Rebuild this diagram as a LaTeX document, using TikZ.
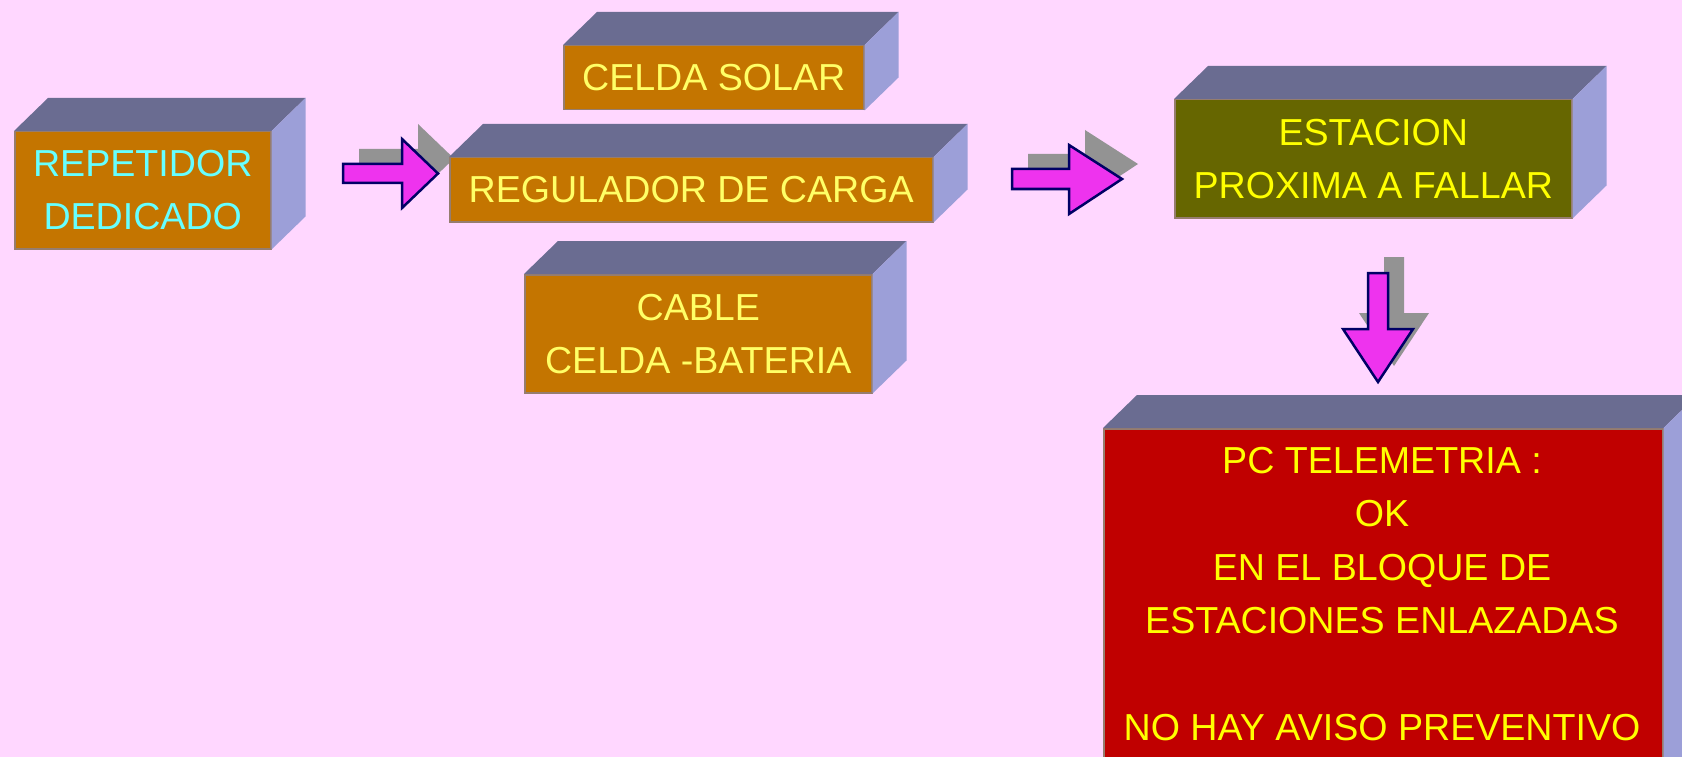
\documentclass[tikz,border=0pt]{standalone}
\usepackage{fontspec}
\setmainfont{Liberation Sans}
\definecolor{bgpink}{RGB}{255,215,255}
\definecolor{topface}{RGB}{106,108,145}
\definecolor{sideface}{RGB}{156,159,216}
\definecolor{orangeface}{RGB}{196,117,0}
\definecolor{oliveface}{RGB}{102,102,0}
\definecolor{redface}{RGB}{192,0,0}
\definecolor{paleyellow}{RGB}{255,255,102}
\definecolor{brightyellow}{RGB}{255,255,0}
\definecolor{cyantext}{RGB}{102,255,255}
\definecolor{arrowfill}{RGB}{238,51,238}
\definecolor{arrowline}{RGB}{0,0,102}
\definecolor{shadowgray}{RGB}{147,147,147}
\definecolor{faceedge}{RGB}{150,125,110}
\tikzset{
  frontface/.style={draw=faceedge, line width=1.5pt, inner sep=0pt, anchor=north west,
    align=center, font=\fontsize{37.6}{53}\selectfont},
  topfill/.style={fill=topface},
  sidefill/.style={fill=sideface},
  blockarrow/.style={fill=arrowfill, draw=arrowline, line width=2.5pt, line join=miter},
  arrowshadow/.style={fill=shadowgray},
}
% cube: name, x, y, width, height, fill, text colour, text
\newcommand\mkcube[8]{%
  \node[frontface, fill=#6, text=#7, minimum width=#4pt, minimum height=#5pt] (#1) at (#2,#3) {#8};
  \fill[topfill] (#1.north west) -- ([shift={(34,-33)}]#1.north west) -- ([shift={(34,-33)}]#1.north east) -- (#1.north east) -- cycle;
  \fill[sidefill] (#1.north east) -- ([shift={(34,-33)}]#1.north east) -- ([shift={(34,-33)}]#1.south east) -- (#1.south east) -- cycle;
}
\begin{document}
\begin{tikzpicture}[x=1pt,y=-1pt]
\useasboundingbox (0,0) rectangle (1682,757);
\clip (0,0) rectangle (1682,757);
\fill[bgpink] (0,0) rectangle (1682,757);

% arrow shadows
\fill[arrowshadow] (359,149) -- (418,149) -- (418,124) -- (454,158.5) -- (418,193) -- (418,168) -- (359,168) -- cycle;
\fill[arrowshadow] (1028,154) -- (1085,154) -- (1085,130) -- (1138,164) -- (1085,199) -- (1085,174) -- (1028,174) -- cycle;
\fill[arrowshadow] (1384,257) -- (1404,257) -- (1404,313) -- (1429,313) -- (1394,366) -- (1359,313) -- (1384,313) -- cycle;

% boxes
\mkcube{rep}{14}{131}{256}{117}{orangeface}{cyantext}{REPETIDOR\\DEDICADO}
\mkcube{solar}{563}{45}{300}{64}{orangeface}{paleyellow}{CELDA SOLAR}
\mkcube{regul}{449}{157}{483}{64}{orangeface}{paleyellow}{REGULADOR DE CARGA}
\mkcube{cable}{524}{274}{347}{118}{orangeface}{paleyellow}{CABLE\\CELDA -BATERIA}
\mkcube{estac}{1174}{99}{397}{118}{oliveface}{brightyellow}{ESTACION\\PROXIMA A FALLAR}
\mkcube{pc}{1103}{428}{559}{400}{redface}{brightyellow}{}
\node[anchor=north, inner sep=0pt, align=center, text=brightyellow,
      font=\fontsize{37.6}{53.5}\selectfont] (pctext) at (1382,447)
  {PC TELEMETRIA :\\OK\\EN EL BLOQUE DE\\ESTACIONES ENLAZADAS\\~\\NO HAY AVISO PREVENTIVO};

% block arrows
\draw[blockarrow] (343,164) -- (402,164) -- (402,139) -- (438,173.5) -- (402,208) -- (402,183) -- (343,183) -- cycle;
\draw[blockarrow] (1012,169) -- (1069,169) -- (1069,145) -- (1122,179) -- (1069,214) -- (1069,189) -- (1012,189) -- cycle;
\draw[blockarrow] (1368,273) -- (1388,273) -- (1388,329) -- (1413,329) -- (1378,382) -- (1343,329) -- (1368,329) -- cycle;
\end{tikzpicture}
\end{document}
